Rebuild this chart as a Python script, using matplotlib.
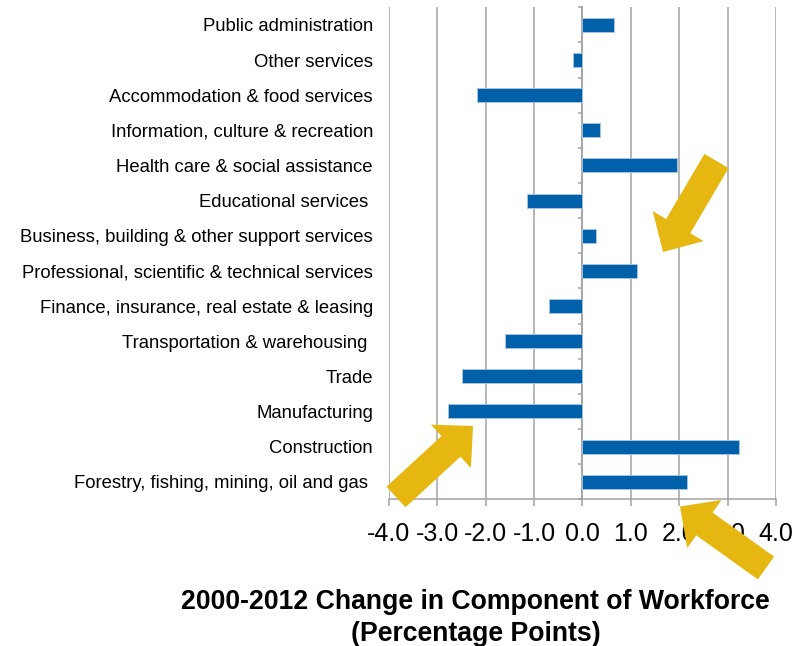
import numpy as np
import matplotlib
matplotlib.use("Agg")
import matplotlib.pyplot as plt
from matplotlib.patches import FancyArrow

plt.rcParams['font.family'] = ['Liberation Sans', 'DejaVu Sans']
plt.rcParams['axes.unicode_minus'] = False

industries = [
    "Public administration",
    "Other services",
    "Accommodation & food services",
    "Information, culture & recreation",
    "Health care & social assistance",
    "Educational services ",
    "Business, building & other support services",
    "Professional, scientific & technical services",
    "Finance, insurance, real estate & leasing",
    "Transportation & warehousing ",
    "Trade",
    "Manufacturing",
    "Construction",
    "Forestry, fishing, mining, oil and gas ",
]
change_pp = [0.65, -0.19, -2.18, 0.37, 1.96, -1.14, 0.28,
             1.12, -0.69, -1.60, -2.50, -2.77, 3.24, 2.16]
x_ticks = [-4.0, -3.0, -2.0, -1.0, 0.0, 1.0, 2.0, 3.0, 4.0]

bar_blue = '#0060A9'
grid_grey = '#A3A3A3'
gold = '#E6B711'

fig = plt.figure(figsize=(8.09, 6.46), dpi=100)
ax = fig.add_axes([0.4808, 0.2271, 0.4784, 0.7616])

pos = np.arange(len(industries))
ax.barh(pos, change_pp, height=0.4, color=bar_blue,
        edgecolor='#A9C8E6', linewidth=0.6, zorder=3)

ax.set_xlim(x_ticks[0], x_ticks[-1])
ax.set_ylim(len(industries) - 0.5, -0.5)
ax.set_xticks(x_ticks, labels=[f"{v:.1f}" for v in x_ticks])
ax.tick_params(axis='x', labelsize=18, length=5, width=1.1,
               color=grid_grey, pad=11)
ax.grid(axis='x', color=grid_grey, linewidth=1.1)
ax.set_axisbelow(True)

# category names sit left of the plot, no marks there
ax.set_yticks(pos, labels=industries)
ax.tick_params(axis='y', length=0, labelsize=13.3, pad=11.5)

for side in ['left', 'top', 'right']:
    ax.spines[side].set_visible(False)
ax.spines['bottom'].set_color(grid_grey)
ax.spines['bottom'].set_linewidth(1.1)

# vertical axis line at zero with boundary ticks pointing left
zero_axis = ax.secondary_yaxis(0.5)
zero_axis.set_alignment('left')
zero_axis.set_yticks(np.arange(len(industries) + 1) - 0.5, labels=[])
zero_axis.tick_params(axis='y', length=3.2, width=1.1, color=grid_grey)
zero_axis.spines['left'].set_color(grid_grey)
zero_axis.spines['left'].set_linewidth(1.1)

fig.text(0.588, 0.044,
         "2000-2012 Change in Component of Workforce\n(Percentage Points)",
         ha='center', va='center', fontsize=19.2, fontweight='bold',
         linespacing=1.3)

# highlight arrows drawn on a pixel-scaled overlay
ov = fig.add_axes([0, 0, 1, 1])
ov.set_xlim(0, 809)
ov.set_ylim(646, 0)
ov.axis('off')
arrows = [
    ((716.5, 161.0), (663.0, 252.0)),
    ((396.0, 497.0), (473.0, 426.0)),
    ((766.0, 568.0), (680.0, 506.5)),
]
for (x0, y0), (x1, y1) in arrows:
    ov.add_patch(FancyArrow(x0, y0, x1 - x0, y1 - y0, width=28,
                            head_width=59, head_length=30,
                            length_includes_head=True,
                            color=gold, linewidth=0))

fig.savefig("out.png", dpi=100)
